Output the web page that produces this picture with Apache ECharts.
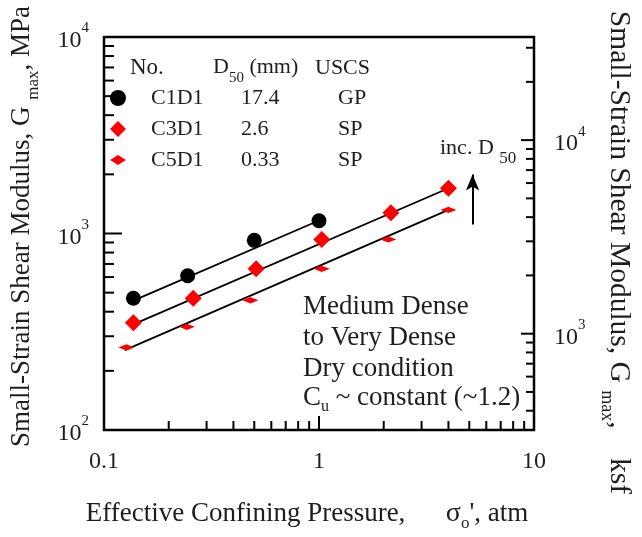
<!DOCTYPE html>
<html>
<head>
<meta charset="utf-8">
<script src="https://cdn.jsdelivr.net/npm/echarts@6.0.0/dist/echarts.min.js"></script>
<style>
  html, body { margin: 0; padding: 0; background: #fff; }
  #chart { width: 642px; height: 537px; }
</style>
</head>
<body>
<div id="chart"></div>
<script>
// measured samples: confining pressure (atm) and Gmax (MPa)
const sampleNames = ['C1D1', 'C3D1', 'C5D1'];
const sampleD50 = ['17.4', '2.6', '0.33'];
const sampleUscs = ['GP', 'SP', 'SP'];

const pressureC1 = [0.137, 0.245, 0.5, 1.0];
const gmaxC1 = [468, 610, 923, 1161];
const pressureC3 = [0.137, 0.26, 0.51, 1.03, 2.16, 4.0];
const gmaxC3 = [351, 468, 661, 933, 1274, 1698];
const pressureC5 = [0.127, 0.243, 0.48, 1.03, 2.1, 4.0];
const gmaxC5 = [263, 335, 457, 661, 933, 1318];

// fitted power-law lines (end points)
const fitPressureC1 = [0.137, 1.0];
const fitGmaxC1 = [455, 1165];
const fitPressureC3 = [0.137, 4.0];
const fitGmaxC3 = [345, 1700];
const fitPressureC5 = [0.125, 4.0];
const fitGmaxC5 = [255, 1320];

// "inc. D50" arrow
const arrowPressure = 5.18;
const arrowGmax = [1110, 1995];

// axis ranges and tick values
const atmRange = [0.1, 10];
const mpaRange = [100, 10000];
const ksfRange = [318, 34100];
const atmTicks = [0.1, 0.2, 0.3, 0.4, 0.5, 0.6, 0.7, 0.8, 0.9, 1, 2, 3, 4, 5, 6, 7, 8, 9, 10];
const mpaTicks = [100, 200, 300, 400, 500, 600, 700, 800, 900, 1000, 2000, 3000, 4000, 5000, 6000, 7000, 8000, 9000, 10000];
const ksfTicks = [400, 500, 600, 700, 800, 900, 1000, 2000, 3000, 4000, 5000, 6000, 7000, 8000, 9000, 10000, 20000, 30000];

const FONT = '"Liberation Serif", "DejaVu Serif", serif';
const INK = '#1d1d24';

function isDecade(v) {
    const e = Math.log10(v);
    return Math.abs(e - Math.round(e)) < 1e-6;
}

function powLabel(v) {
    if (!isDecade(v)) return '';
    return '{b|10}{s|' + Math.round(Math.log10(v)) + '}';
}

const powRich = {
    b: { fontFamily: FONT, fontSize: 24, color: INK, lineHeight: 32, verticalAlign: 'bottom' },
    s: { fontFamily: FONT, fontSize: 15, color: INK, verticalAlign: 'top' }
};

// inward tick marks drawn at log positions through the axes
function tickSeries(name, yAxisIndex, data, side) {
    return {
        name: name,
        type: 'custom',
        yAxisIndex: yAxisIndex,
        silent: true,
        z: 5,
        clip: false,
        data: data,
        renderItem: function (params, api) {
            const x = api.value(0), y = api.value(1);
            const p = api.coord([x, y]);
            const v = side === 'bottom' ? x : y;
            const major = isDecade(v);
            let dx = 0, dy = 0;
            if (side === 'left') dx = major ? 18 : 10;
            if (side === 'right') dx = major ? -13 : -8;
            if (side === 'bottom') dy = major ? -14 : -9;
            return {
                type: 'line',
                shape: { x1: p[0], y1: p[1], x2: p[0] + dx, y2: p[1] + dy },
                style: { stroke: '#000', lineWidth: 2 }
            };
        }
    };
}

const myChart = echarts.init(document.getElementById('chart'), null, { renderer: 'canvas' });

const option = {
    animation: false,
    backgroundColor: '#fff',
    grid: {
        left: 98,
        right: 103,
        top: 37,
        bottom: 100,
        show: true,
        borderColor: '#000',
        borderWidth: 2.5,
        backgroundColor: 'transparent'
    },
    legend: {
        data: sampleNames,
        orient: 'vertical',
        left: 105,
        top: 82,
        itemWidth: 16,
        itemHeight: 16,
        itemGap: 9,
        selectedMode: false,
        formatter: function (name) {
            const i = sampleNames.indexOf(name);
            return '{n|' + name + '}{d|' + sampleD50[i] + '}{u|' + sampleUscs[i] + '}';
        },
        textStyle: {
            fontFamily: FONT,
            fontSize: 22,
            color: INK,
            rich: {
                n: { fontFamily: FONT, fontSize: 22, color: INK, width: 90, padding: [0, 0, 0, 20] },
                d: { fontFamily: FONT, fontSize: 22, color: INK, width: 97 },
                u: { fontFamily: FONT, fontSize: 22, color: INK }
            }
        }
    },
    xAxis: {
        type: 'log',
        logBase: 10,
        min: atmRange[0],
        max: atmRange[1],
        axisLine: { show: false },
        axisTick: { show: false },
        splitLine: { show: false },
        axisLabel: {
            margin: 20,
            fontFamily: FONT,
            fontSize: 24,
            color: INK,
            formatter: function (v) { return isDecade(v) ? String(v) : ''; }
        },
        name: '{t|Effective Confining Pressure,      }{g|σ}{s|o}{t|\', atm}',
        nameLocation: 'middle',
        nameGap: 70,
        nameTextStyle: {
            padding: [0, 24, 0, 0],
            rich: {
                t: { fontFamily: FONT, fontSize: 27, color: INK, lineHeight: 32, verticalAlign: 'top' },
                g: { fontFamily: FONT, fontSize: 28, color: INK, lineHeight: 32, verticalAlign: 'top' },
                s: { fontFamily: FONT, fontSize: 17, color: INK, verticalAlign: 'bottom' }
            }
        }
    },
    yAxis: [
        {
            type: 'log',
            logBase: 10,
            min: mpaRange[0],
            max: mpaRange[1],
            position: 'left',
            axisLine: { show: false },
            axisTick: { show: false },
            splitLine: { show: false },
            axisLabel: { margin: 15, formatter: powLabel, rich: powRich },
            name: '{t|Small-Strain Shear Modulus, G }{s|max}{t|, MPa}',
            nameLocation: 'middle',
            nameRotate: 90,
            nameGap: 62,
            nameTextStyle: {
                padding: [0, 0, 0, 14],
                rich: {
                    t: { fontFamily: FONT, fontSize: 27, color: INK, lineHeight: 34, verticalAlign: 'top' },
                    s: { fontFamily: FONT, fontSize: 17, color: INK, verticalAlign: 'bottom' }
                }
            }
        },
        {
            type: 'log',
            logBase: 10,
            min: ksfRange[0],
            max: ksfRange[1],
            position: 'right',
            axisLine: { show: false },
            axisTick: { show: false },
            splitLine: { show: false },
            axisLabel: { margin: 20, formatter: powLabel, rich: powRich },
            name: '{t|Small-Strain Shear Modulus, G }{s|max}{t|,    ksf}',
            nameLocation: 'middle',
            nameRotate: -90,
            nameGap: 64,
            nameTextStyle: {
                padding: [0, 0, 0, 38],
                rich: {
                    t: { fontFamily: FONT, fontSize: 29.5, color: INK, lineHeight: 36, verticalAlign: 'top' },
                    s: { fontFamily: FONT, fontSize: 18, color: INK, verticalAlign: 'bottom' }
                }
            }
        }
    ],
    graphic: [
        {
            type: 'text',
            x: 130,
            y: 68,
            style: { text: 'No.', font: '23px ' + FONT, fill: INK, verticalAlign: 'middle' }
        },
        {
            type: 'text',
            x: 213,
            y: 56,
            style: {
                text: '{t|D}{s|50}{t| (mm)}',
                fill: INK,
                verticalAlign: 'top',
                rich: {
                    t: { font: '22px ' + FONT, fill: INK, lineHeight: 30, verticalAlign: 'top' },
                    s: { font: '15px ' + FONT, fill: INK, verticalAlign: 'bottom' }
                }
            }
        },
        {
            type: 'text',
            x: 315,
            y: 68,
            style: { text: 'USCS', font: '22px ' + FONT, fill: INK, verticalAlign: 'middle' }
        },
        {
            type: 'text',
            x: 440,
            y: 137,
            style: {
                text: '{t|inc. D }{s|50}',
                fill: INK,
                verticalAlign: 'top',
                rich: {
                    t: { font: '22px ' + FONT, fill: INK, lineHeight: 30, verticalAlign: 'top' },
                    s: { font: '17px ' + FONT, fill: INK, verticalAlign: 'bottom' }
                }
            }
        },
        {
            type: 'text',
            x: 303,
            y: 291,
            style: {
                text: 'Medium Dense\nto Very Dense\nDry condition\n{t|C}{s|u}{t| ~ constant (~1.2)}',
                font: '27px ' + FONT,
                fill: INK,
                lineHeight: 31,
                verticalAlign: 'top',
                rich: {
                    t: { font: '27px ' + FONT, fill: INK, lineHeight: 31, verticalAlign: 'top' },
                    s: { font: '16px ' + FONT, fill: INK, verticalAlign: 'bottom' }
                }
            }
        }
    ],
    series: [
        {
            name: 'fit C1D1',
            type: 'line',
            data: fitPressureC1.map((p, i) => [p, fitGmaxC1[i]]),
            symbol: 'none',
            lineStyle: { color: '#000', width: 1.8 },
            z: 2
        },
        {
            name: 'fit C3D1',
            type: 'line',
            data: fitPressureC3.map((p, i) => [p, fitGmaxC3[i]]),
            symbol: 'none',
            lineStyle: { color: '#000', width: 1.8 },
            z: 2,
            markLine: {
                silent: true,
                symbol: ['none', 'arrow'],
                symbolSize: [10, 16],
                label: { show: false },
                lineStyle: { color: '#000', width: 2, type: 'solid' },
                data: [[
                    { coord: [arrowPressure, arrowGmax[0]] },
                    { coord: [arrowPressure, arrowGmax[1]] }
                ]]
            }
        },
        {
            name: 'fit C5D1',
            type: 'line',
            data: fitPressureC5.map((p, i) => [p, fitGmaxC5[i]]),
            symbol: 'none',
            lineStyle: { color: '#000', width: 1.8 },
            z: 2
        },
        {
            name: 'C1D1',
            type: 'scatter',
            data: pressureC1.map((p, i) => [p, gmaxC1[i]]),
            symbol: 'circle',
            symbolSize: 15,
            itemStyle: { color: '#000', opacity: 1 },
            z: 3
        },
        {
            name: 'C3D1',
            type: 'scatter',
            data: pressureC3.map((p, i) => [p, gmaxC3[i]]),
            symbol: 'diamond',
            symbolSize: 17,
            itemStyle: { color: '#ff0000', opacity: 1 },
            z: 3
        },
        {
            name: 'C5D1',
            type: 'scatter',
            data: pressureC5.map((p, i) => [p, gmaxC5[i]]),
            symbol: 'path://M0,5L8,0L16,5L8,10Z',
            symbolKeepAspect: true,
            symbolSize: [16, 10],
            itemStyle: { color: '#ff0000', opacity: 1 },
            z: 3
        },
        tickSeries('ticks MPa', 0, mpaTicks.map(v => [atmRange[0], v]), 'left'),
        tickSeries('ticks atm', 0, atmTicks.map(v => [v, mpaRange[0]]), 'bottom'),
        tickSeries('ticks ksf', 1, ksfTicks.map(v => [atmRange[1], v]), 'right')
    ]
};

myChart.setOption(option);
</script>
</body>
</html>
